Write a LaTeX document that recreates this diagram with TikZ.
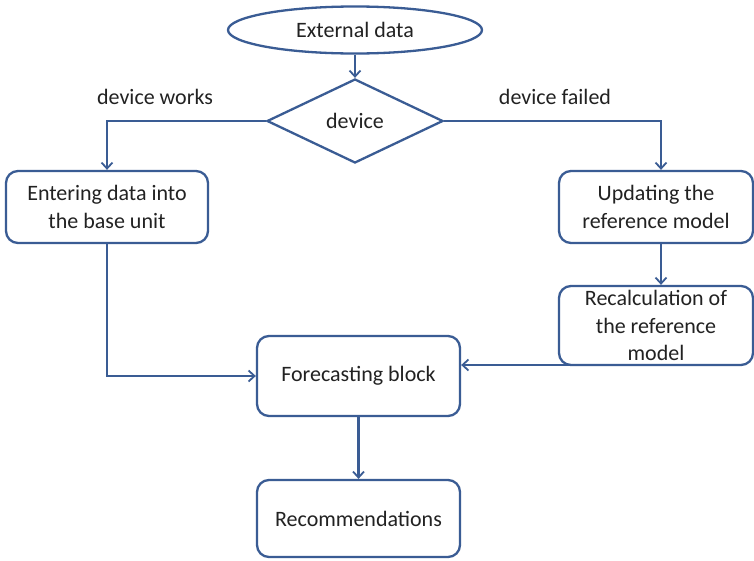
\documentclass[tikz,border=0pt]{standalone}
\usepackage{fontspec}
\setmainfont{Carlito}
\usetikzlibrary{shapes.geometric,arrows.meta}
\definecolor{edge}{RGB}{58,92,148}
\definecolor{ink}{RGB}{34,34,34}
\begin{document}
\begin{tikzpicture}[x=1pt,y=-1pt,
  every node/.style={text=ink,font=\fontsize{22}{27.5}\selectfont},
  box/.style={draw=edge,line width=2.3pt,rounded corners=12pt,align=center,inner sep=0pt,fill=white},
  link/.style={draw=edge,line width=2.3pt,-{Straight Barb[length=6pt,width=11pt,line width=1.8pt]}}]
\useasboundingbox (0,0) rectangle (754,560);
\fill[white] (0,0) rectangle (754,560);

\node[ellipse,draw=edge,line width=2.3pt,minimum width=254pt,minimum height=47pt,inner sep=0pt] (ext) at (355,30) {External data};
\node[diamond,draw=edge,line width=2.3pt,minimum width=176pt,minimum height=84pt,inner sep=0pt] (dev) at (355,121) {device};
\node[box,minimum width=202pt,minimum height=72pt] (enter) at (107,207) {Entering data into\\the base unit};
\node[box,minimum width=194pt,minimum height=72pt] (upd) at (656,207) {Updating the\\reference model};
\node[box,minimum width=194pt,minimum height=79pt] (recalc) at (656,325.5) {Recalculation of\\the reference\\model};
\node[box,minimum width=203pt,minimum height=80pt] (fc) at (358.5,376) {Forecasting block};
\node[box,minimum width=203pt,minimum height=77pt] (rec) at (358.5,518.5) {Recommendations};

\node (works) at (155,97) {device works};
\node (failed) at (555,97) {device failed};

\draw[link] (ext) -- (dev);
\draw[link] (dev.west) -| (enter.north);
\draw[link] (dev.east) -| ([xshift=5pt]upd.north);
\draw[link] ([xshift=5pt]upd.south) -- ([xshift=5pt]recalc.north);
\draw[link] (enter.south) |- (fc.west);
\draw[link] ([xshift=5pt]recalc.south) |- ([yshift=11pt]fc.east);
\draw[link] (fc) -- (rec);
\end{tikzpicture}
\end{document}
